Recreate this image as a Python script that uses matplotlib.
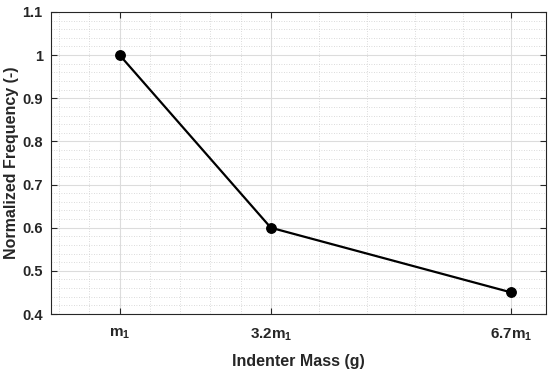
import matplotlib
matplotlib.use("Agg")
import matplotlib.pyplot as plt
import numpy as np

# Data
x_vals = [1.0, 3.2, 6.7]
y_vals = [1.0, 0.6, 0.45]
x_tick_labels = [r'$\mathbf{m_1}$', r'$\mathbf{3.2m_1}$', r'$\mathbf{6.7m_1}$']
y_ticks = [0.4, 0.5, 0.6, 0.7, 0.8, 0.9, 1.0, 1.1]
y_tick_labels = ['0.4', '0.5', '0.6', '0.7', '0.8', '0.9', '1', '1.1']

plt.rcParams['font.family'] = ['Liberation Sans', 'DejaVu Sans']
plt.rcParams['mathtext.fontset'] = 'custom'
plt.rcParams['mathtext.rm'] = 'Liberation Sans:bold'
plt.rcParams['mathtext.bf'] = 'Liberation Sans:bold'
plt.rcParams['mathtext.it'] = 'Liberation Sans:bold'

fig = plt.figure(figsize=(5.5, 3.74), dpi=100)
ax = fig.add_axes([0.0927, 0.1604, 0.992 - 0.0927, 0.968 - 0.1604])

axc = '#262626'
ax.plot(x_vals, y_vals, color='black', lw=1.6, marker='o', ms=6.8, zorder=3)

ax.set_xlim(0, 7.2)
ax.set_ylim(0.4, 1.1)
ax.set_xticks(x_vals)
ax.set_xticklabels(x_tick_labels, fontsize=11)
ax.set_yticks(y_ticks)
ax.set_yticklabels(y_tick_labels, fontsize=10.5, fontweight='bold')

# minor ticks: 5 subdivisions per major interval (MATLAB-like)
minor_x = []
steps = np.diff(x_vals) / 5.0
for k in (1, 2):
    minor_x.append(x_vals[0] - k * steps[0])
for i in range(len(x_vals) - 1):
    for k in range(1, 5):
        minor_x.append(x_vals[i] + k * steps[i])
ax.set_xticks(minor_x, minor=True)
ax.set_yticks(np.arange(0.4, 1.1001, 0.02), minor=True)

ax.grid(True, which='major', color='#dcdcdc', lw=0.8, ls='-', zorder=0)
ax.grid(True, which='minor', color='#cfcfcf', lw=0.6, ls=(0, (1, 2)), zorder=0)
ax.set_axisbelow(True)

ax.tick_params(which='major', direction='in', length=4, width=0.8, color=axc,
               top=True, right=True, labelcolor=axc)
ax.tick_params(axis='x', which='major', pad=9)
ax.tick_params(axis='y', which='major', pad=6)
ax.tick_params(which='minor', length=0, top=True, right=True)
for s in ax.spines.values():
    s.set_color(axc)
    s.set_linewidth(0.8)

ax.set_xlabel('Indenter Mass (g)', fontsize=11.5, fontweight='bold', color=axc, labelpad=8)
ax.set_ylabel('Normalized Frequency (-)', fontsize=11.5, fontweight='bold', color=axc, labelpad=2)

fig.savefig('out.png', dpi=100)
